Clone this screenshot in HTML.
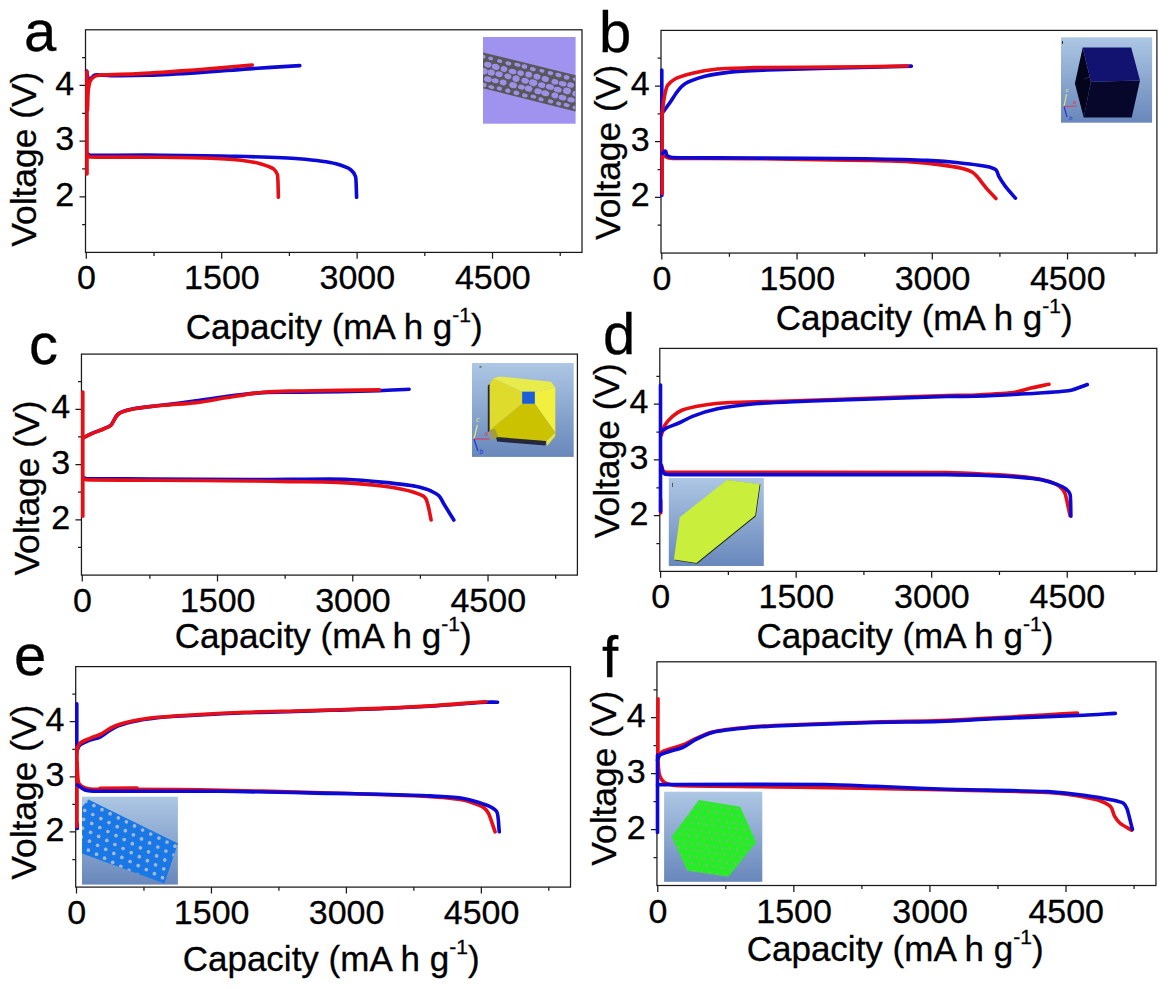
<!DOCTYPE html>
<html><head><meta charset="utf-8"><title>Voltage profiles</title>
<style>html,body{margin:0;padding:0;background:#fff;}svg{display:block;}svg text{stroke:#000;stroke-width:0.3px;}body{font-family:"Liberation Sans", sans-serif;}</style></head>
<body>
<svg width="1168" height="989" viewBox="0 0 1168 989" font-family='"Liberation Sans", sans-serif' fill="#000">
<defs><linearGradient id="gb" x1="0" y1="0" x2="0" y2="1">
<stop offset="0" stop-color="#adc7e4"/><stop offset="1" stop-color="#6887bb"/></linearGradient></defs>
<g id="panel-a">
<rect x="483.0" y="37.0" width="92.6" height="86.7" fill="#a093ef"/>
<defs><clipPath id="cta"><polygon points="483,52.4 575.6,75.2 575.6,111.6 483,88.3"/></clipPath></defs>
<polygon points="483,52.4 575.6,75.2 575.6,111.6 483,88.3" fill="#58585c"/>
<g clip-path="url(#cta)" fill="#9c90e6"><ellipse cx="474.3" cy="54.2" rx="3.0" ry="1.7" transform="rotate(13.8 474.3 54.2)"/><ellipse cx="483.1" cy="56.6" rx="2.6" ry="2.0" transform="rotate(13.8 483.1 56.6)"/><ellipse cx="490.7" cy="58.5" rx="2.6" ry="1.7" transform="rotate(13.8 490.7 58.5)"/><ellipse cx="499.7" cy="61.1" rx="2.7" ry="1.8" transform="rotate(13.8 499.7 61.1)"/><ellipse cx="508.4" cy="63.4" rx="3.0" ry="1.9" transform="rotate(13.8 508.4 63.4)"/><ellipse cx="517.4" cy="64.7" rx="3.2" ry="1.8" transform="rotate(13.8 517.4 64.7)"/><ellipse cx="524.4" cy="66.5" rx="2.8" ry="2.2" transform="rotate(13.8 524.4 66.5)"/><ellipse cx="532.9" cy="69.1" rx="3.0" ry="1.9" transform="rotate(13.8 532.9 69.1)"/><ellipse cx="541.9" cy="70.8" rx="2.6" ry="1.8" transform="rotate(13.8 541.9 70.8)"/><ellipse cx="550.5" cy="73.2" rx="2.8" ry="2.0" transform="rotate(13.8 550.5 73.2)"/><ellipse cx="558.5" cy="75.1" rx="3.1" ry="2.1" transform="rotate(13.8 558.5 75.1)"/><ellipse cx="566.6" cy="77.4" rx="2.9" ry="2.2" transform="rotate(13.8 566.6 77.4)"/><ellipse cx="575.8" cy="79.3" rx="3.2" ry="1.7" transform="rotate(13.8 575.8 79.3)"/><ellipse cx="583.7" cy="81.7" rx="2.7" ry="2.0" transform="rotate(13.8 583.7 81.7)"/><ellipse cx="478.1" cy="62.7" rx="3.8" ry="2.8" transform="rotate(13.8 478.1 62.7)"/><ellipse cx="487.8" cy="64.7" rx="3.8" ry="2.8" transform="rotate(13.8 487.8 64.7)"/><ellipse cx="495.7" cy="66.8" rx="3.9" ry="3.0" transform="rotate(13.8 495.7 66.8)"/><ellipse cx="504.0" cy="69.0" rx="3.4" ry="2.8" transform="rotate(13.8 504.0 69.0)"/><ellipse cx="512.6" cy="71.5" rx="3.9" ry="2.6" transform="rotate(13.8 512.6 71.5)"/><ellipse cx="520.6" cy="73.1" rx="3.3" ry="2.7" transform="rotate(13.8 520.6 73.1)"/><ellipse cx="528.7" cy="74.6" rx="3.4" ry="2.9" transform="rotate(13.8 528.7 74.6)"/><ellipse cx="537.0" cy="76.7" rx="3.6" ry="2.9" transform="rotate(13.8 537.0 76.7)"/><ellipse cx="545.3" cy="79.0" rx="3.7" ry="2.9" transform="rotate(13.8 545.3 79.0)"/><ellipse cx="554.9" cy="81.8" rx="3.5" ry="2.7" transform="rotate(13.8 554.9 81.8)"/><ellipse cx="562.6" cy="83.7" rx="4.0" ry="2.5" transform="rotate(13.8 562.6 83.7)"/><ellipse cx="570.7" cy="85.0" rx="3.5" ry="2.7" transform="rotate(13.8 570.7 85.0)"/><ellipse cx="579.7" cy="87.3" rx="3.3" ry="2.7" transform="rotate(13.8 579.7 87.3)"/><ellipse cx="587.8" cy="89.6" rx="4.0" ry="2.8" transform="rotate(13.8 587.8 89.6)"/><ellipse cx="474.6" cy="68.8" rx="4.1" ry="2.7" transform="rotate(13.8 474.6 68.8)"/><ellipse cx="483.6" cy="71.1" rx="4.2" ry="3.2" transform="rotate(13.8 483.6 71.1)"/><ellipse cx="491.2" cy="72.6" rx="3.7" ry="3.1" transform="rotate(13.8 491.2 72.6)"/><ellipse cx="499.1" cy="74.2" rx="3.7" ry="2.8" transform="rotate(13.8 499.1 74.2)"/><ellipse cx="507.9" cy="76.4" rx="3.6" ry="2.8" transform="rotate(13.8 507.9 76.4)"/><ellipse cx="516.0" cy="78.7" rx="3.6" ry="3.2" transform="rotate(13.8 516.0 78.7)"/><ellipse cx="525.2" cy="80.7" rx="3.8" ry="2.9" transform="rotate(13.8 525.2 80.7)"/><ellipse cx="533.2" cy="82.7" rx="4.2" ry="3.3" transform="rotate(13.8 533.2 82.7)"/><ellipse cx="541.7" cy="85.1" rx="3.7" ry="2.8" transform="rotate(13.8 541.7 85.1)"/><ellipse cx="549.9" cy="86.9" rx="4.2" ry="2.8" transform="rotate(13.8 549.9 86.9)"/><ellipse cx="557.8" cy="89.6" rx="4.0" ry="2.8" transform="rotate(13.8 557.8 89.6)"/><ellipse cx="567.1" cy="90.9" rx="4.0" ry="3.3" transform="rotate(13.8 567.1 90.9)"/><ellipse cx="576.0" cy="93.8" rx="3.8" ry="2.9" transform="rotate(13.8 576.0 93.8)"/><ellipse cx="583.3" cy="95.7" rx="4.0" ry="3.2" transform="rotate(13.8 583.3 95.7)"/><ellipse cx="478.5" cy="76.3" rx="3.9" ry="3.0" transform="rotate(13.8 478.5 76.3)"/><ellipse cx="487.8" cy="79.2" rx="3.9" ry="2.9" transform="rotate(13.8 487.8 79.2)"/><ellipse cx="495.2" cy="80.7" rx="3.6" ry="2.4" transform="rotate(13.8 495.2 80.7)"/><ellipse cx="503.2" cy="82.5" rx="3.5" ry="2.8" transform="rotate(13.8 503.2 82.5)"/><ellipse cx="513.1" cy="85.1" rx="4.0" ry="3.0" transform="rotate(13.8 513.1 85.1)"/><ellipse cx="521.5" cy="87.1" rx="3.5" ry="2.5" transform="rotate(13.8 521.5 87.1)"/><ellipse cx="528.7" cy="88.7" rx="3.8" ry="3.0" transform="rotate(13.8 528.7 88.7)"/><ellipse cx="538.1" cy="91.3" rx="3.8" ry="2.9" transform="rotate(13.8 538.1 91.3)"/><ellipse cx="545.3" cy="93.2" rx="4.0" ry="2.9" transform="rotate(13.8 545.3 93.2)"/><ellipse cx="554.8" cy="95.4" rx="3.4" ry="2.9" transform="rotate(13.8 554.8 95.4)"/><ellipse cx="562.5" cy="97.6" rx="4.0" ry="2.7" transform="rotate(13.8 562.5 97.6)"/><ellipse cx="571.0" cy="99.8" rx="3.8" ry="2.5" transform="rotate(13.8 571.0 99.8)"/><ellipse cx="579.0" cy="101.0" rx="3.9" ry="2.9" transform="rotate(13.8 579.0 101.0)"/><ellipse cx="587.4" cy="103.7" rx="4.0" ry="2.8" transform="rotate(13.8 587.4 103.7)"/><ellipse cx="474.4" cy="82.6" rx="2.7" ry="1.7" transform="rotate(13.8 474.4 82.6)"/><ellipse cx="483.8" cy="85.0" rx="2.9" ry="2.2" transform="rotate(13.8 483.8 85.0)"/><ellipse cx="491.3" cy="87.1" rx="3.1" ry="1.8" transform="rotate(13.8 491.3 87.1)"/><ellipse cx="499.4" cy="88.5" rx="2.7" ry="2.0" transform="rotate(13.8 499.4 88.5)"/><ellipse cx="507.8" cy="90.7" rx="2.7" ry="2.2" transform="rotate(13.8 507.8 90.7)"/><ellipse cx="516.4" cy="92.9" rx="3.0" ry="2.2" transform="rotate(13.8 516.4 92.9)"/><ellipse cx="524.9" cy="95.4" rx="2.9" ry="2.0" transform="rotate(13.8 524.9 95.4)"/><ellipse cx="533.4" cy="96.6" rx="2.9" ry="1.8" transform="rotate(13.8 533.4 96.6)"/><ellipse cx="541.0" cy="99.3" rx="2.7" ry="1.9" transform="rotate(13.8 541.0 99.3)"/><ellipse cx="550.6" cy="101.4" rx="2.8" ry="2.0" transform="rotate(13.8 550.6 101.4)"/><ellipse cx="558.7" cy="103.6" rx="2.6" ry="2.0" transform="rotate(13.8 558.7 103.6)"/><ellipse cx="566.6" cy="105.1" rx="3.1" ry="2.0" transform="rotate(13.8 566.6 105.1)"/><ellipse cx="575.5" cy="107.7" rx="3.2" ry="1.9" transform="rotate(13.8 575.5 107.7)"/><ellipse cx="584.0" cy="109.6" rx="2.9" ry="2.1" transform="rotate(13.8 584.0 109.6)"/></g>
<rect x="85.50" y="29.80" width="496.50" height="222.60" fill="none" stroke="#1a1a1a" stroke-width="1.25"/>
<path d="M86.30 252.40 V258.80 M221.71 252.40 V258.80 M357.12 252.40 V258.80 M492.53 252.40 V258.80 M154.00 252.40 V256.00 M289.41 252.40 V256.00 M424.82 252.40 V256.00 M560.23 252.40 V256.00 M85.50 196.75 H79.50 M85.50 141.10 H79.50 M85.50 85.45 H79.50 M85.50 224.58 H82.10 M85.50 168.93 H82.10 M85.50 113.28 H82.10 M85.50 57.62 H82.10" stroke="#1a1a1a" stroke-width="1.25" fill="none"/>
<text x="86.50" y="289.30" text-anchor="middle" font-size="34">0</text>
<text x="221.91" y="289.30" text-anchor="middle" font-size="34">1500</text>
<text x="357.32" y="289.30" text-anchor="middle" font-size="34">3000</text>
<text x="492.73" y="289.30" text-anchor="middle" font-size="34">4500</text>
<text x="74.20" y="205.85" text-anchor="end" font-size="34">2</text>
<text x="74.20" y="150.20" text-anchor="end" font-size="34">3</text>
<text x="74.20" y="94.55" text-anchor="end" font-size="34">4</text>
<text x="185.80" y="339.00" font-size="35.0">Capacity (mA h g<tspan font-size="21" dy="-17.5">-1</tspan><tspan dy="17.5">)</tspan></text>
<text transform="translate(35.80 246.70) rotate(-90)" x="0" y="0" font-size="35.4">Voltage (V)</text>
<path d="M86.60 71.00 C87.02 73.10 87.39 75.56 87.80 77.00 C88.21 78.44 88.01 80.82 89.30 81.00 C90.59 81.18 90.61 78.95 91.50 78.00 C92.39 77.05 93.48 75.53 95.00 75.00 C96.52 74.47 105.40 75.52 111.00 75.60 C116.60 75.68 135.38 75.61 148.50 75.20 C161.62 74.79 181.01 73.70 198.50 72.60 C215.99 71.50 230.99 70.11 248.50 68.90 C266.01 67.69 281.85 66.75 299.80 65.60" fill="none" stroke="#0c08d6" stroke-width="3.60" stroke-linecap="round" stroke-linejoin="round"/>
<path d="M87.30 153.80 C88.25 154.29 88.97 154.95 90.00 155.20 C91.03 155.45 136.15 155.02 161.00 155.20 C185.85 155.38 214.12 155.70 236.00 156.30 C257.88 156.90 285.31 157.66 298.50 158.80 C311.69 159.94 330.51 162.33 336.00 163.80 C341.49 165.27 348.85 168.26 351.00 170.00 C353.15 171.74 354.61 173.88 355.50 176.50 C356.39 179.12 356.22 190.02 356.60 197.30" fill="none" stroke="#0c08d6" stroke-width="3.60" stroke-linecap="round" stroke-linejoin="round"/>
<path d="M87.00 71.50 L87.00 174.00" fill="none" stroke="#e80e16" stroke-width="3.60" stroke-linecap="round" stroke-linejoin="round"/>
<path d="M87.50 110.00 C87.78 103.00 87.84 93.38 88.30 90.00 C88.76 86.62 89.54 82.23 90.50 80.50 C91.46 78.77 92.77 77.46 94.50 76.50 C96.23 75.54 98.68 75.30 101.00 75.00 C103.32 74.70 123.76 74.50 136.00 73.90 C148.24 73.30 172.87 71.56 186.00 70.60 C199.13 69.64 213.42 68.46 223.50 67.60 C233.58 66.74 242.22 65.91 252.30 65.00" fill="none" stroke="#e80e16" stroke-width="3.60" stroke-linecap="round" stroke-linejoin="round"/>
<path d="M87.50 155.50 C88.38 156.03 89.02 156.73 90.00 157.00 C90.98 157.27 143.50 157.00 161.00 157.20 C178.50 157.40 200.49 157.74 211.00 158.20 C221.51 158.66 233.94 159.31 241.00 160.20 C248.06 161.09 256.47 162.59 261.00 163.90 C265.53 165.21 271.63 167.41 273.50 168.90 C275.37 170.39 276.63 172.24 277.40 174.50 C278.17 176.76 278.05 189.32 278.40 197.30" fill="none" stroke="#e80e16" stroke-width="3.60" stroke-linecap="round" stroke-linejoin="round"/>
<text x="24.00" y="51.00" font-size="58">a</text>
</g>
<g id="panel-b">
<rect x="1061.0" y="37.3" width="91.1" height="85.4" fill="url(#gb)"/>
<polygon points="1082.7,47.5 1090.9,81.7 1083.7,117.4 1074.9,83.4" fill="#04041c"/>
<polygon points="1090.9,81.7 1140.0,80.5 1131.7,117.4 1083.7,117.4" fill="#07072c"/>
<polygon points="1082.7,47.5 1131.2,47.5 1140.0,80.5 1090.9,81.7" fill="#121270"/>
<path d="M1084 79 L1090 77" stroke="#404060" stroke-width="0.6"/>
<path d="M1064 106.5 L1066.5 94" stroke="#e8e870" stroke-width="1.1"/>
<path d="M1064 106.5 L1077 106" stroke="#d84050" stroke-width="1.1"/>
<path d="M1064 106.5 L1067 117" stroke="#2030e0" stroke-width="1.1"/>
<g font-size="6" font-style="italic" style="stroke:none"><text x="1065.5" y="92" fill="#e8e870" style="stroke:none">c</text><text x="1073" y="104" fill="#d84050" style="stroke:none">a</text><text x="1069" y="119.5" fill="#2030e0" style="stroke:none">b</text></g>
<rect x="1062" y="41" width="0.9" height="3" fill="#222"/>
<rect x="661.00" y="30.40" width="495.90" height="222.65" fill="none" stroke="#1a1a1a" stroke-width="1.25"/>
<path d="M661.80 253.05 V259.45 M797.05 253.05 V259.45 M932.29 253.05 V259.45 M1067.54 253.05 V259.45 M729.42 253.05 V256.65 M864.67 253.05 V256.65 M999.91 253.05 V256.65 M1135.16 253.05 V256.65 M661.00 197.39 H655.00 M661.00 141.73 H655.00 M661.00 86.06 H655.00 M661.00 225.22 H657.60 M661.00 169.56 H657.60 M661.00 113.89 H657.60 M661.00 58.23 H657.60" stroke="#1a1a1a" stroke-width="1.25" fill="none"/>
<text x="662.00" y="290.00" text-anchor="middle" font-size="34">0</text>
<text x="797.25" y="290.00" text-anchor="middle" font-size="34">1500</text>
<text x="932.49" y="290.00" text-anchor="middle" font-size="34">3000</text>
<text x="1067.74" y="290.00" text-anchor="middle" font-size="34">4500</text>
<text x="649.70" y="206.49" text-anchor="end" font-size="34">2</text>
<text x="649.70" y="150.83" text-anchor="end" font-size="34">3</text>
<text x="649.70" y="95.16" text-anchor="end" font-size="34">4</text>
<text x="775.80" y="330.30" font-size="35.0">Capacity (mA h g<tspan font-size="21" dy="-17.5">-1</tspan><tspan dy="17.5">)</tspan></text>
<text transform="translate(619.60 239.90) rotate(-90)" x="0" y="0" font-size="35.4">Voltage (V)</text>
<path d="M661.80 70.00 L661.80 195.50" fill="none" stroke="#0c08d6" stroke-width="3.60" stroke-linecap="round" stroke-linejoin="round"/>
<path d="M662.20 112.00 L662.20 193.50" fill="none" stroke="#e80e16" stroke-width="3.60" stroke-linecap="round" stroke-linejoin="round"/>
<path d="M662.60 112.50 C665.19 109.00 667.49 106.06 670.00 102.50 C672.51 98.94 675.14 94.17 677.50 91.30 C679.86 88.43 681.88 85.81 685.00 83.80 C688.12 81.79 697.78 78.24 705.00 76.30 C712.22 74.36 721.18 73.08 730.00 72.10 C738.82 71.12 754.37 70.55 767.50 70.00 C780.63 69.45 808.12 68.89 830.00 68.30 C851.88 67.71 882.85 66.87 911.30 66.10" fill="none" stroke="#0c08d6" stroke-width="3.60" stroke-linecap="round" stroke-linejoin="round"/>
<path d="M662.20 115.00 C662.76 109.75 662.87 105.15 663.80 100.00 C664.73 94.85 665.67 88.46 667.50 85.50 C669.33 82.54 671.98 80.72 675.00 79.00 C678.02 77.28 686.24 74.75 692.50 73.20 C698.76 71.65 708.67 69.90 717.50 69.00 C726.33 68.10 741.87 67.89 755.00 67.60 C768.13 67.31 803.75 67.37 830.00 67.10 C856.25 66.83 880.38 66.38 907.50 66.00" fill="none" stroke="#e80e16" stroke-width="3.60" stroke-linecap="round" stroke-linejoin="round"/>
<path d="M663.00 155.50 C665.45 156.44 667.42 157.71 670.00 158.20 C672.58 158.69 722.00 158.31 750.00 158.60 C778.00 158.89 848.65 160.01 865.00 160.40 C881.35 160.79 900.75 161.16 911.70 161.90 C922.65 162.64 936.32 164.22 942.90 165.10 C949.48 165.98 957.67 167.16 961.60 168.20 C965.53 169.24 970.44 170.91 972.50 172.20 C974.56 173.49 975.87 175.21 977.50 177.00 C979.13 178.79 983.34 184.61 986.50 188.30 C989.66 191.99 992.61 194.93 995.90 198.50" fill="none" stroke="#e80e16" stroke-width="3.60" stroke-linecap="round" stroke-linejoin="round"/>
<path d="M662.60 153.50 C663.54 152.62 664.05 150.70 665.30 151.00 C666.55 151.30 665.82 154.30 667.00 155.50 C668.18 156.70 670.15 157.14 672.00 157.50 C673.85 157.86 722.70 157.82 750.00 158.00 C777.30 158.18 843.19 158.44 865.00 158.80 C886.81 159.16 916.36 159.86 927.30 160.40 C938.24 160.94 947.61 161.53 958.50 162.70 C969.39 163.87 987.29 166.45 989.60 167.10 C991.91 167.75 994.19 168.12 995.90 169.80 C997.61 171.48 997.72 174.38 999.00 176.70 C1000.28 179.02 1002.84 182.94 1005.20 186.10 C1007.56 189.26 1011.83 193.97 1015.40 198.20" fill="none" stroke="#0c08d6" stroke-width="3.60" stroke-linecap="round" stroke-linejoin="round"/>
<text x="599.00" y="52.00" font-size="58">b</text>
</g>
<g id="panel-c">
<rect x="472.0" y="363.0" width="101.7" height="93.9" fill="url(#gb)"/>
<polygon points="487.8,385.5 490.2,383.5 490.2,431.0 487.8,432.0" fill="#25273c"/>
<polygon points="495.5,436.0 546.5,440.5 545.3,445.6 497.2,441.6" fill="#25273c"/>
<polygon points="493.2,378.5 499.5,376.4 551.1,381.7 555.3,387.4 534.8,391.7 522.2,391.7" fill="#e7eb4c"/>
<polygon points="489.6,384.3 493.2,378.5 522.2,391.7 522.2,403.7 489.6,430.6" fill="#dedb2c"/>
<polygon points="555.3,387.4 555.3,432.7 534.8,403.7 534.8,391.7" fill="#f1f03e"/>
<polygon points="522.2,403.7 534.8,403.7 555.3,432.7 546.3,441.1 496.4,436.9 489.6,430.6" fill="#cbc302"/>
<polygon points="555.3,432.7 555.3,436.0 547.0,446.0 546.3,441.1" fill="#e6e640"/>
<polygon points="522.2,391.7 534.8,391.7 534.8,403.7 522.2,403.7" fill="#1a5fd8"/>
<polygon points="489.2,430.5 495.0,428.8 498.2,437.0 492.0,439.5" fill="#a59c40"/>
<path d="M474 439 L477.3 425" stroke="#e8e870" stroke-width="1.2"/>
<path d="M474 439 L489.5 439" stroke="#d84050" stroke-width="1.2"/>
<path d="M474 439 L478 451" stroke="#2030e0" stroke-width="1.2"/>
<text x="476" y="422" font-size="6.5" font-style="italic" fill="#e8e870" style="stroke:none">c</text>
<text x="484.5" y="436" font-size="6.5" font-style="italic" fill="#d84050" style="stroke:none">a</text>
<text x="479.5" y="454" font-size="6.5" font-style="italic" fill="#2030e0" style="stroke:none">b</text>
<rect x="479.5" y="366.5" width="2" height="0.9" fill="#222"/>
<rect x="81.45" y="354.10" width="495.95" height="221.00" fill="none" stroke="#1a1a1a" stroke-width="1.25"/>
<path d="M82.25 575.10 V581.50 M217.51 575.10 V581.50 M352.77 575.10 V581.50 M488.03 575.10 V581.50 M149.88 575.10 V578.70 M285.14 575.10 V578.70 M420.40 575.10 V578.70 M555.66 575.10 V578.70 M81.45 519.85 H75.45 M81.45 464.60 H75.45 M81.45 409.35 H75.45 M81.45 547.48 H78.05 M81.45 492.23 H78.05 M81.45 436.98 H78.05 M81.45 381.73 H78.05" stroke="#1a1a1a" stroke-width="1.25" fill="none"/>
<text x="82.45" y="611.70" text-anchor="middle" font-size="34">0</text>
<text x="217.71" y="611.70" text-anchor="middle" font-size="34">1500</text>
<text x="352.97" y="611.70" text-anchor="middle" font-size="34">3000</text>
<text x="488.23" y="611.70" text-anchor="middle" font-size="34">4500</text>
<text x="70.15" y="528.95" text-anchor="end" font-size="34">2</text>
<text x="70.15" y="473.70" text-anchor="end" font-size="34">3</text>
<text x="70.15" y="418.45" text-anchor="end" font-size="34">4</text>
<text x="174.70" y="648.20" font-size="35.0">Capacity (mA h g<tspan font-size="21" dy="-17.5">-1</tspan><tspan dy="17.5">)</tspan></text>
<text transform="translate(39.20 575.60) rotate(-90)" x="0" y="0" font-size="35.4">Voltage (V)</text>
<path d="M83.50 437.50 C86.12 436.20 88.33 434.99 91.00 433.80 C93.67 432.61 100.82 430.01 103.50 428.80 C106.18 427.59 108.80 426.95 111.00 425.00 C113.20 423.05 114.75 416.66 118.50 413.80 C122.25 410.94 128.10 410.03 133.50 408.80 C138.90 407.57 153.00 406.34 163.50 405.00 C174.00 403.66 185.49 402.23 196.00 400.80 C206.51 399.37 215.47 397.80 226.00 396.50 C236.53 395.20 250.75 393.33 263.50 392.60 C276.25 391.87 287.23 392.37 300.00 392.20 C312.77 392.03 326.21 391.88 340.00 391.60 C353.79 391.32 369.00 390.96 379.40 390.60 C389.80 390.24 398.70 389.75 409.10 389.30" fill="none" stroke="#0c08d6" stroke-width="3.60" stroke-linecap="round" stroke-linejoin="round"/>
<path d="M83.50 477.60 C84.38 477.95 85.08 478.42 86.00 478.60 C86.92 478.78 128.25 478.87 151.00 479.00 C173.75 479.13 237.35 479.48 251.00 479.50 C264.65 479.52 276.35 479.43 290.00 479.40 C303.65 479.37 331.15 478.77 344.90 479.30 C358.65 479.83 373.12 481.28 384.10 482.40 C395.08 483.52 409.79 485.12 415.40 486.30 C421.01 487.48 428.19 489.71 431.10 491.00 C434.01 492.29 436.65 493.45 438.90 495.70 C441.15 497.95 441.94 500.78 443.60 503.50 C445.26 506.22 450.23 514.23 453.80 520.00" fill="none" stroke="#0c08d6" stroke-width="3.60" stroke-linecap="round" stroke-linejoin="round"/>
<path d="M82.80 392.00 L82.80 516.30" fill="none" stroke="#e80e16" stroke-width="3.60" stroke-linecap="round" stroke-linejoin="round"/>
<path d="M83.50 437.80 C86.12 436.47 88.32 435.21 91.00 434.00 C93.68 432.79 100.83 430.19 103.50 429.00 C106.17 427.81 108.80 427.23 111.00 425.30 C113.20 423.37 114.73 416.89 118.50 414.00 C122.27 411.11 128.10 410.22 133.50 409.00 C138.90 407.78 152.98 406.39 163.50 405.30 C174.02 404.21 185.44 403.88 196.00 402.60 C206.56 401.32 215.49 399.43 226.00 397.80 C236.51 396.17 250.77 393.36 263.50 392.20 C276.23 391.04 287.22 391.31 300.00 391.00 C312.78 390.69 326.21 390.59 340.00 390.40 C353.79 390.21 365.61 390.07 379.40 389.90" fill="none" stroke="#e80e16" stroke-width="3.60" stroke-linecap="round" stroke-linejoin="round"/>
<path d="M83.50 478.30 C84.38 478.82 85.02 479.52 86.00 479.80 C86.98 480.08 128.25 480.04 151.00 480.20 C173.75 480.36 237.35 480.84 251.00 481.00 C264.65 481.16 276.35 481.38 290.00 481.60 C303.65 481.82 320.57 481.58 337.00 482.40 C353.43 483.22 374.14 484.92 384.10 486.30 C394.06 487.68 407.74 490.37 412.30 491.80 C416.86 493.23 422.74 495.19 424.80 497.30 C426.86 499.41 427.14 502.28 428.00 505.10 C428.86 507.92 430.01 514.78 431.10 520.00" fill="none" stroke="#e80e16" stroke-width="3.60" stroke-linecap="round" stroke-linejoin="round"/>
<text x="29.00" y="364.00" font-size="58">c</text>
</g>
<g id="panel-d">
<rect x="668.8" y="478.0" width="95.0" height="88.0" fill="url(#gb)"/>
<polygon points="727.7,480.6 760.4,484.6 755.9,516.3 697.1,563.7 674.6,560.2 680.5,517.9" fill="#1f2a10"/>
<polygon points="727.0,479.9 759.7,483.9 755.2,515.6 696.4,563.0 673.9,559.5 679.8,517.2" fill="#c9ee3c"/>
<rect x="672.2" y="482.8" width="0.8" height="4.2" fill="#3a4050"/>
<rect x="659.80" y="348.40" width="497.00" height="223.00" fill="none" stroke="#1a1a1a" stroke-width="1.25"/>
<path d="M660.60 571.40 V577.80 M796.15 571.40 V577.80 M931.69 571.40 V577.80 M1067.24 571.40 V577.80 M728.37 571.40 V575.00 M863.92 571.40 V575.00 M999.46 571.40 V575.00 M1135.01 571.40 V575.00 M659.80 515.65 H653.80 M659.80 459.90 H653.80 M659.80 404.15 H653.80 M659.80 543.52 H656.40 M659.80 487.77 H656.40 M659.80 432.02 H656.40 M659.80 376.27 H656.40" stroke="#1a1a1a" stroke-width="1.25" fill="none"/>
<text x="660.80" y="608.10" text-anchor="middle" font-size="34">0</text>
<text x="796.35" y="608.10" text-anchor="middle" font-size="34">1500</text>
<text x="931.89" y="608.10" text-anchor="middle" font-size="34">3000</text>
<text x="1067.44" y="608.10" text-anchor="middle" font-size="34">4500</text>
<text x="648.50" y="524.75" text-anchor="end" font-size="34">2</text>
<text x="648.50" y="469.00" text-anchor="end" font-size="34">3</text>
<text x="648.50" y="413.25" text-anchor="end" font-size="34">4</text>
<text x="756.50" y="648.20" font-size="35.0">Capacity (mA h g<tspan font-size="21" dy="-17.5">-1</tspan><tspan dy="17.5">)</tspan></text>
<text transform="translate(619.00 538.20) rotate(-90)" x="0" y="0" font-size="35.4">Voltage (V)</text>
<path d="M661.30 435.00 C662.60 431.50 663.10 428.21 665.00 425.00 C666.90 421.79 669.45 418.92 672.50 416.30 C675.55 413.68 678.67 411.57 682.50 410.00 C686.33 408.43 697.03 406.28 705.00 405.00 C712.97 403.72 721.22 403.05 730.00 402.50 C738.78 401.95 762.50 401.71 780.00 401.20 C797.50 400.69 828.75 399.68 855.00 398.80 C881.25 397.92 936.85 395.88 947.00 395.60 C957.15 395.32 965.86 395.48 976.00 395.00 C986.14 394.52 1010.64 392.91 1016.00 392.00 C1021.36 391.09 1025.71 389.25 1031.00 388.00 C1036.29 386.75 1042.70 385.60 1049.00 384.30" fill="none" stroke="#e80e16" stroke-width="3.60" stroke-linecap="round" stroke-linejoin="round"/>
<path d="M661.30 465.00 C662.17 467.20 662.09 469.91 663.80 471.30 C665.51 472.69 667.80 472.21 670.00 472.40 C672.20 472.59 933.09 472.18 947.00 472.50 C960.91 472.82 975.77 473.68 986.70 474.30 C997.63 474.92 1009.68 475.58 1017.90 476.40 C1026.12 477.22 1035.70 478.22 1041.30 479.50 C1046.90 480.78 1054.45 483.23 1056.90 484.60 C1059.35 485.97 1061.86 488.35 1063.00 489.80 C1064.14 491.25 1064.78 492.76 1065.40 494.50 C1066.02 496.24 1068.39 508.15 1070.00 515.50" fill="none" stroke="#e80e16" stroke-width="3.60" stroke-linecap="round" stroke-linejoin="round"/>
<path d="M660.70 500.00 L660.70 513.00" fill="none" stroke="#e80e16" stroke-width="3.60" stroke-linecap="round" stroke-linejoin="round"/>
<path d="M660.50 385.00 L660.50 511.50" fill="none" stroke="#0c08d6" stroke-width="3.60" stroke-linecap="round" stroke-linejoin="round"/>
<path d="M661.30 431.30 C663.47 429.97 665.23 428.64 667.50 427.50 C669.77 426.36 675.70 424.42 680.00 422.50 C684.30 420.58 687.96 418.09 692.50 416.30 C697.04 414.51 708.57 410.72 717.50 408.80 C726.43 406.88 741.81 405.01 755.00 403.80 C768.19 402.59 787.49 402.03 805.00 401.30 C822.51 400.57 856.55 399.59 880.00 398.80 C903.45 398.01 936.85 396.71 947.00 396.50 C957.15 396.29 965.85 396.59 976.00 396.30 C986.15 396.01 1010.66 394.76 1026.00 393.80 C1041.34 392.84 1063.46 391.80 1069.80 390.50 C1076.14 389.20 1081.17 386.60 1087.30 384.50" fill="none" stroke="#0c08d6" stroke-width="3.60" stroke-linecap="round" stroke-linejoin="round"/>
<path d="M661.30 466.00 C662.17 468.56 662.14 471.83 663.80 473.30 C665.46 474.77 667.79 474.37 670.00 474.60 C672.21 474.83 933.10 474.44 947.00 474.60 C960.90 474.76 975.77 475.10 986.70 475.50 C997.63 475.90 1009.69 476.43 1017.90 477.10 C1026.11 477.77 1035.71 478.56 1041.30 479.70 C1046.89 480.84 1053.51 483.05 1056.90 484.40 C1060.29 485.75 1064.43 487.59 1066.20 489.10 C1067.97 490.61 1069.34 492.30 1070.10 494.50 C1070.86 496.70 1070.62 508.67 1070.90 516.30" fill="none" stroke="#0c08d6" stroke-width="3.60" stroke-linecap="round" stroke-linejoin="round"/>
<text x="603.00" y="354.00" font-size="58">d</text>
</g>
<g id="panel-e">
<rect x="82.0" y="796.7" width="95.9" height="87.9" fill="url(#gb)"/>
<defs><clipPath id="cie"><rect x="82.0" y="796.7" width="95.9" height="87.9"/></clipPath></defs>
<g clip-path="url(#cie)">
<polygon points="88.4,799.5 177.9,843.6 164.5,883.4 82.0,853.4 82.0,807.0" fill="#1a78e6"/>
<defs><clipPath id="cpe"><polygon points="88.4,799.5 177.9,843.6 164.5,883.4 82.0,853.4 82.0,807.0"/></clipPath></defs>
<g clip-path="url(#cpe)" fill="#a3b8d0"><circle cx="65.9" cy="753.8" r="1.85"/><circle cx="74.0" cy="757.8" r="1.85"/><circle cx="82.1" cy="761.9" r="1.85"/><circle cx="90.2" cy="765.9" r="1.85"/><circle cx="98.3" cy="770.0" r="1.85"/><circle cx="106.5" cy="774.1" r="1.85"/><circle cx="114.6" cy="778.1" r="1.85"/><circle cx="122.7" cy="782.2" r="1.85"/><circle cx="130.8" cy="786.2" r="1.85"/><circle cx="138.9" cy="790.3" r="1.85"/><circle cx="147.1" cy="794.4" r="1.85"/><circle cx="155.2" cy="798.4" r="1.85"/><circle cx="163.3" cy="802.5" r="1.85"/><circle cx="171.4" cy="806.5" r="1.85"/><circle cx="179.5" cy="810.6" r="1.85"/><circle cx="187.7" cy="814.7" r="1.85"/><circle cx="195.8" cy="818.7" r="1.85"/><circle cx="203.9" cy="822.8" r="1.85"/><circle cx="64.8" cy="762.7" r="1.85"/><circle cx="72.9" cy="766.7" r="1.85"/><circle cx="81.0" cy="770.8" r="1.85"/><circle cx="89.1" cy="774.8" r="1.85"/><circle cx="97.2" cy="778.9" r="1.85"/><circle cx="105.4" cy="783.0" r="1.85"/><circle cx="113.5" cy="787.0" r="1.85"/><circle cx="121.6" cy="791.1" r="1.85"/><circle cx="129.7" cy="795.1" r="1.85"/><circle cx="137.8" cy="799.2" r="1.85"/><circle cx="146.0" cy="803.3" r="1.85"/><circle cx="154.1" cy="807.3" r="1.85"/><circle cx="162.2" cy="811.4" r="1.85"/><circle cx="170.3" cy="815.4" r="1.85"/><circle cx="178.4" cy="819.5" r="1.85"/><circle cx="186.6" cy="823.6" r="1.85"/><circle cx="194.7" cy="827.6" r="1.85"/><circle cx="202.8" cy="831.7" r="1.85"/><circle cx="63.6" cy="771.6" r="1.85"/><circle cx="71.8" cy="775.6" r="1.85"/><circle cx="79.9" cy="779.7" r="1.85"/><circle cx="88.0" cy="783.7" r="1.85"/><circle cx="96.1" cy="787.8" r="1.85"/><circle cx="104.2" cy="791.9" r="1.85"/><circle cx="112.4" cy="795.9" r="1.85"/><circle cx="120.5" cy="800.0" r="1.85"/><circle cx="128.6" cy="804.0" r="1.85"/><circle cx="136.7" cy="808.1" r="1.85"/><circle cx="144.8" cy="812.2" r="1.85"/><circle cx="153.0" cy="816.2" r="1.85"/><circle cx="161.1" cy="820.3" r="1.85"/><circle cx="169.2" cy="824.3" r="1.85"/><circle cx="177.3" cy="828.4" r="1.85"/><circle cx="185.4" cy="832.5" r="1.85"/><circle cx="193.6" cy="836.5" r="1.85"/><circle cx="201.7" cy="840.6" r="1.85"/><circle cx="62.5" cy="780.5" r="1.85"/><circle cx="70.7" cy="784.5" r="1.85"/><circle cx="78.8" cy="788.6" r="1.85"/><circle cx="86.9" cy="792.6" r="1.85"/><circle cx="95.0" cy="796.7" r="1.85"/><circle cx="103.1" cy="800.8" r="1.85"/><circle cx="111.2" cy="804.8" r="1.85"/><circle cx="119.4" cy="808.9" r="1.85"/><circle cx="127.5" cy="812.9" r="1.85"/><circle cx="135.6" cy="817.0" r="1.85"/><circle cx="143.7" cy="821.1" r="1.85"/><circle cx="151.9" cy="825.1" r="1.85"/><circle cx="160.0" cy="829.2" r="1.85"/><circle cx="168.1" cy="833.2" r="1.85"/><circle cx="176.2" cy="837.3" r="1.85"/><circle cx="184.3" cy="841.4" r="1.85"/><circle cx="192.5" cy="845.4" r="1.85"/><circle cx="200.6" cy="849.5" r="1.85"/><circle cx="61.4" cy="789.4" r="1.85"/><circle cx="69.5" cy="793.4" r="1.85"/><circle cx="77.7" cy="797.5" r="1.85"/><circle cx="85.8" cy="801.5" r="1.85"/><circle cx="93.9" cy="805.6" r="1.85"/><circle cx="102.0" cy="809.7" r="1.85"/><circle cx="110.1" cy="813.7" r="1.85"/><circle cx="118.3" cy="817.8" r="1.85"/><circle cx="126.4" cy="821.8" r="1.85"/><circle cx="134.5" cy="825.9" r="1.85"/><circle cx="142.6" cy="830.0" r="1.85"/><circle cx="150.7" cy="834.0" r="1.85"/><circle cx="158.9" cy="838.1" r="1.85"/><circle cx="167.0" cy="842.1" r="1.85"/><circle cx="175.1" cy="846.2" r="1.85"/><circle cx="183.2" cy="850.3" r="1.85"/><circle cx="191.3" cy="854.3" r="1.85"/><circle cx="199.5" cy="858.4" r="1.85"/><circle cx="60.3" cy="798.3" r="1.85"/><circle cx="68.4" cy="802.3" r="1.85"/><circle cx="76.6" cy="806.4" r="1.85"/><circle cx="84.7" cy="810.4" r="1.85"/><circle cx="92.8" cy="814.5" r="1.85"/><circle cx="100.9" cy="818.6" r="1.85"/><circle cx="109.0" cy="822.6" r="1.85"/><circle cx="117.2" cy="826.7" r="1.85"/><circle cx="125.3" cy="830.7" r="1.85"/><circle cx="133.4" cy="834.8" r="1.85"/><circle cx="141.5" cy="838.9" r="1.85"/><circle cx="149.6" cy="842.9" r="1.85"/><circle cx="157.8" cy="847.0" r="1.85"/><circle cx="165.9" cy="851.0" r="1.85"/><circle cx="174.0" cy="855.1" r="1.85"/><circle cx="182.1" cy="859.2" r="1.85"/><circle cx="190.2" cy="863.2" r="1.85"/><circle cx="198.3" cy="867.3" r="1.85"/><circle cx="59.2" cy="807.2" r="1.85"/><circle cx="67.3" cy="811.2" r="1.85"/><circle cx="75.4" cy="815.3" r="1.85"/><circle cx="83.6" cy="819.3" r="1.85"/><circle cx="91.7" cy="823.4" r="1.85"/><circle cx="99.8" cy="827.5" r="1.85"/><circle cx="107.9" cy="831.5" r="1.85"/><circle cx="116.0" cy="835.6" r="1.85"/><circle cx="124.2" cy="839.6" r="1.85"/><circle cx="132.3" cy="843.7" r="1.85"/><circle cx="140.4" cy="847.8" r="1.85"/><circle cx="148.5" cy="851.8" r="1.85"/><circle cx="156.6" cy="855.9" r="1.85"/><circle cx="164.8" cy="859.9" r="1.85"/><circle cx="172.9" cy="864.0" r="1.85"/><circle cx="181.0" cy="868.1" r="1.85"/><circle cx="189.1" cy="872.1" r="1.85"/><circle cx="197.2" cy="876.2" r="1.85"/><circle cx="58.1" cy="816.1" r="1.85"/><circle cx="66.2" cy="820.1" r="1.85"/><circle cx="74.3" cy="824.2" r="1.85"/><circle cx="82.5" cy="828.2" r="1.85"/><circle cx="90.6" cy="832.3" r="1.85"/><circle cx="98.7" cy="836.4" r="1.85"/><circle cx="106.8" cy="840.4" r="1.85"/><circle cx="114.9" cy="844.5" r="1.85"/><circle cx="123.0" cy="848.5" r="1.85"/><circle cx="131.2" cy="852.6" r="1.85"/><circle cx="139.3" cy="856.7" r="1.85"/><circle cx="147.4" cy="860.7" r="1.85"/><circle cx="155.5" cy="864.8" r="1.85"/><circle cx="163.7" cy="868.8" r="1.85"/><circle cx="171.8" cy="872.9" r="1.85"/><circle cx="179.9" cy="877.0" r="1.85"/><circle cx="188.0" cy="881.0" r="1.85"/><circle cx="196.1" cy="885.1" r="1.85"/><circle cx="57.0" cy="825.0" r="1.85"/><circle cx="65.1" cy="829.0" r="1.85"/><circle cx="73.2" cy="833.1" r="1.85"/><circle cx="81.3" cy="837.1" r="1.85"/><circle cx="89.5" cy="841.2" r="1.85"/><circle cx="97.6" cy="845.3" r="1.85"/><circle cx="105.7" cy="849.3" r="1.85"/><circle cx="113.8" cy="853.4" r="1.85"/><circle cx="121.9" cy="857.4" r="1.85"/><circle cx="130.1" cy="861.5" r="1.85"/><circle cx="138.2" cy="865.6" r="1.85"/><circle cx="146.3" cy="869.6" r="1.85"/><circle cx="154.4" cy="873.7" r="1.85"/><circle cx="162.5" cy="877.7" r="1.85"/><circle cx="170.7" cy="881.8" r="1.85"/><circle cx="178.8" cy="885.9" r="1.85"/><circle cx="186.9" cy="889.9" r="1.85"/><circle cx="195.0" cy="894.0" r="1.85"/><circle cx="55.9" cy="833.9" r="1.85"/><circle cx="64.0" cy="837.9" r="1.85"/><circle cx="72.1" cy="842.0" r="1.85"/><circle cx="80.2" cy="846.0" r="1.85"/><circle cx="88.4" cy="850.1" r="1.85"/><circle cx="96.5" cy="854.2" r="1.85"/><circle cx="104.6" cy="858.2" r="1.85"/><circle cx="112.7" cy="862.3" r="1.85"/><circle cx="120.8" cy="866.3" r="1.85"/><circle cx="128.9" cy="870.4" r="1.85"/><circle cx="137.1" cy="874.5" r="1.85"/><circle cx="145.2" cy="878.5" r="1.85"/><circle cx="153.3" cy="882.6" r="1.85"/><circle cx="161.4" cy="886.6" r="1.85"/><circle cx="169.5" cy="890.7" r="1.85"/><circle cx="177.7" cy="894.8" r="1.85"/><circle cx="185.8" cy="898.8" r="1.85"/><circle cx="193.9" cy="902.9" r="1.85"/><circle cx="54.8" cy="842.8" r="1.85"/><circle cx="62.9" cy="846.8" r="1.85"/><circle cx="71.0" cy="850.9" r="1.85"/><circle cx="79.1" cy="854.9" r="1.85"/><circle cx="87.2" cy="859.0" r="1.85"/><circle cx="95.4" cy="863.1" r="1.85"/><circle cx="103.5" cy="867.1" r="1.85"/><circle cx="111.6" cy="871.2" r="1.85"/><circle cx="119.7" cy="875.2" r="1.85"/><circle cx="127.8" cy="879.3" r="1.85"/><circle cx="136.0" cy="883.4" r="1.85"/><circle cx="144.1" cy="887.4" r="1.85"/><circle cx="152.2" cy="891.5" r="1.85"/><circle cx="160.3" cy="895.5" r="1.85"/><circle cx="168.4" cy="899.6" r="1.85"/><circle cx="176.6" cy="903.7" r="1.85"/><circle cx="184.7" cy="907.7" r="1.85"/><circle cx="192.8" cy="911.8" r="1.85"/><circle cx="53.7" cy="851.7" r="1.85"/><circle cx="61.8" cy="855.7" r="1.85"/><circle cx="69.9" cy="859.8" r="1.85"/><circle cx="78.0" cy="863.8" r="1.85"/><circle cx="86.1" cy="867.9" r="1.85"/><circle cx="94.3" cy="872.0" r="1.85"/><circle cx="102.4" cy="876.0" r="1.85"/><circle cx="110.5" cy="880.1" r="1.85"/><circle cx="118.6" cy="884.1" r="1.85"/><circle cx="126.7" cy="888.2" r="1.85"/><circle cx="134.8" cy="892.3" r="1.85"/><circle cx="143.0" cy="896.3" r="1.85"/><circle cx="151.1" cy="900.4" r="1.85"/><circle cx="159.2" cy="904.4" r="1.85"/><circle cx="167.3" cy="908.5" r="1.85"/><circle cx="175.4" cy="912.6" r="1.85"/><circle cx="183.6" cy="916.6" r="1.85"/><circle cx="191.7" cy="920.7" r="1.85"/><circle cx="52.5" cy="860.6" r="1.85"/><circle cx="60.7" cy="864.6" r="1.85"/><circle cx="68.8" cy="868.7" r="1.85"/><circle cx="76.9" cy="872.7" r="1.85"/><circle cx="85.0" cy="876.8" r="1.85"/><circle cx="93.1" cy="880.9" r="1.85"/><circle cx="101.3" cy="884.9" r="1.85"/><circle cx="109.4" cy="889.0" r="1.85"/><circle cx="117.5" cy="893.0" r="1.85"/><circle cx="125.6" cy="897.1" r="1.85"/><circle cx="133.7" cy="901.2" r="1.85"/><circle cx="141.9" cy="905.2" r="1.85"/><circle cx="150.0" cy="909.3" r="1.85"/><circle cx="158.1" cy="913.3" r="1.85"/><circle cx="166.2" cy="917.4" r="1.85"/><circle cx="174.3" cy="921.5" r="1.85"/><circle cx="182.5" cy="925.5" r="1.85"/><circle cx="190.6" cy="929.6" r="1.85"/><circle cx="51.4" cy="869.5" r="1.85"/><circle cx="59.6" cy="873.5" r="1.85"/><circle cx="67.7" cy="877.6" r="1.85"/><circle cx="75.8" cy="881.6" r="1.85"/><circle cx="83.9" cy="885.7" r="1.85"/><circle cx="92.0" cy="889.8" r="1.85"/><circle cx="100.2" cy="893.8" r="1.85"/><circle cx="108.3" cy="897.9" r="1.85"/><circle cx="116.4" cy="901.9" r="1.85"/><circle cx="124.5" cy="906.0" r="1.85"/><circle cx="132.6" cy="910.1" r="1.85"/><circle cx="140.8" cy="914.1" r="1.85"/><circle cx="148.9" cy="918.2" r="1.85"/><circle cx="157.0" cy="922.2" r="1.85"/><circle cx="165.1" cy="926.3" r="1.85"/><circle cx="173.2" cy="930.4" r="1.85"/><circle cx="181.3" cy="934.4" r="1.85"/><circle cx="189.5" cy="938.5" r="1.85"/><circle cx="50.3" cy="878.4" r="1.85"/><circle cx="58.4" cy="882.4" r="1.85"/><circle cx="66.6" cy="886.5" r="1.85"/><circle cx="74.7" cy="890.5" r="1.85"/><circle cx="82.8" cy="894.6" r="1.85"/><circle cx="90.9" cy="898.7" r="1.85"/><circle cx="99.0" cy="902.7" r="1.85"/><circle cx="107.2" cy="906.8" r="1.85"/><circle cx="115.3" cy="910.8" r="1.85"/><circle cx="123.4" cy="914.9" r="1.85"/><circle cx="131.5" cy="919.0" r="1.85"/><circle cx="139.6" cy="923.0" r="1.85"/><circle cx="147.8" cy="927.1" r="1.85"/><circle cx="155.9" cy="931.1" r="1.85"/><circle cx="164.0" cy="935.2" r="1.85"/><circle cx="172.1" cy="939.3" r="1.85"/><circle cx="180.2" cy="943.3" r="1.85"/><circle cx="188.4" cy="947.4" r="1.85"/><circle cx="49.2" cy="887.3" r="1.85"/><circle cx="57.3" cy="891.3" r="1.85"/><circle cx="65.5" cy="895.4" r="1.85"/><circle cx="73.6" cy="899.4" r="1.85"/><circle cx="81.7" cy="903.5" r="1.85"/><circle cx="89.8" cy="907.6" r="1.85"/><circle cx="97.9" cy="911.6" r="1.85"/><circle cx="106.1" cy="915.7" r="1.85"/><circle cx="114.2" cy="919.7" r="1.85"/><circle cx="122.3" cy="923.8" r="1.85"/><circle cx="130.4" cy="927.9" r="1.85"/><circle cx="138.5" cy="931.9" r="1.85"/><circle cx="146.7" cy="936.0" r="1.85"/><circle cx="154.8" cy="940.0" r="1.85"/><circle cx="162.9" cy="944.1" r="1.85"/><circle cx="171.0" cy="948.2" r="1.85"/><circle cx="179.1" cy="952.2" r="1.85"/><circle cx="187.2" cy="956.3" r="1.85"/></g>
</g>
<rect x="75.70" y="666.60" width="494.80" height="220.50" fill="none" stroke="#1a1a1a" stroke-width="1.25"/>
<path d="M76.50 887.10 V893.50 M211.45 887.10 V893.50 M346.39 887.10 V893.50 M481.34 887.10 V893.50 M143.97 887.10 V890.70 M278.92 887.10 V890.70 M413.86 887.10 V890.70 M548.81 887.10 V890.70 M75.70 831.98 H69.70 M75.70 776.85 H69.70 M75.70 721.73 H69.70 M75.70 859.54 H72.30 M75.70 804.41 H72.30 M75.70 749.29 H72.30 M75.70 694.16 H72.30" stroke="#1a1a1a" stroke-width="1.25" fill="none"/>
<text x="76.70" y="923.50" text-anchor="middle" font-size="34">0</text>
<text x="211.65" y="923.50" text-anchor="middle" font-size="34">1500</text>
<text x="346.59" y="923.50" text-anchor="middle" font-size="34">3000</text>
<text x="481.54" y="923.50" text-anchor="middle" font-size="34">4500</text>
<text x="64.40" y="841.08" text-anchor="end" font-size="34">2</text>
<text x="64.40" y="785.95" text-anchor="end" font-size="34">3</text>
<text x="64.40" y="730.83" text-anchor="end" font-size="34">4</text>
<text x="182.70" y="971.30" font-size="35.0">Capacity (mA h g<tspan font-size="21" dy="-17.5">-1</tspan><tspan dy="17.5">)</tspan></text>
<text transform="translate(35.80 879.70) rotate(-90)" x="0" y="0" font-size="35.4">Voltage (V)</text>
<path d="M76.80 703.80 L76.80 752.50" fill="none" stroke="#0c08d6" stroke-width="3.60" stroke-linecap="round" stroke-linejoin="round"/>
<path d="M77.00 750.50 C78.05 748.58 78.42 746.52 80.00 745.00 C81.58 743.48 86.60 741.35 90.00 740.00 C93.40 738.65 96.68 738.53 100.00 737.00 C103.32 735.47 109.34 729.96 115.00 727.30 C120.66 724.64 126.25 723.27 132.50 721.80 C138.75 720.33 148.69 718.80 157.50 717.80 C166.31 716.80 181.87 716.07 195.00 715.30 C208.13 714.53 227.51 713.46 245.00 712.80 C262.49 712.14 282.75 711.87 295.00 711.50 C307.25 711.13 317.75 710.71 330.00 710.30 C342.25 709.89 362.51 709.42 380.00 708.70 C397.49 707.98 418.44 706.91 430.10 706.20 C441.76 705.49 455.49 704.37 463.40 703.80 C471.31 703.23 481.94 702.34 486.00 702.20 C490.06 702.06 493.54 702.20 497.60 702.20" fill="none" stroke="#0c08d6" stroke-width="3.60" stroke-linecap="round" stroke-linejoin="round"/>
<path d="M77.30 828.50 L77.30 824.00" fill="none" stroke="#0c08d6" stroke-width="3.60" stroke-linecap="round" stroke-linejoin="round"/>
<path d="M77.00 747.50 L77.00 826.50" fill="none" stroke="#e80e16" stroke-width="3.60" stroke-linecap="round" stroke-linejoin="round"/>
<path d="M77.00 749.50 C78.05 747.33 78.31 745.02 80.00 743.30 C81.69 741.58 86.57 739.80 90.00 738.30 C93.43 736.80 96.61 736.09 100.00 734.50 C103.39 732.91 109.43 728.33 115.00 726.00 C120.57 723.67 126.27 722.34 132.50 721.00 C138.73 719.66 148.71 718.24 157.50 717.30 C166.29 716.36 181.87 715.57 195.00 714.80 C208.13 714.03 227.51 712.96 245.00 712.30 C262.49 711.64 282.75 711.33 295.00 711.00 C307.25 710.67 317.75 710.37 330.00 710.00 C342.25 709.63 362.51 709.12 380.00 708.40 C397.49 707.68 418.43 706.63 430.10 705.90 C441.77 705.17 455.49 703.99 463.40 703.40 C471.31 702.81 478.09 702.30 486.00 701.70" fill="none" stroke="#e80e16" stroke-width="3.60" stroke-linecap="round" stroke-linejoin="round"/>
<path d="M77.00 762.50 C77.63 769.85 77.48 781.17 78.80 783.50 C80.12 785.83 82.51 787.01 85.00 788.00 C87.49 788.99 91.48 789.06 95.00 789.30 C98.52 789.54 163.25 789.26 200.00 789.80 C236.75 790.34 294.96 791.94 330.00 793.00 C365.04 794.06 418.41 795.78 430.10 796.60 C441.79 797.42 456.09 798.38 463.40 800.10 C470.71 801.82 481.30 806.07 483.50 807.60 C485.70 809.13 487.15 811.08 488.50 813.40 C489.85 815.72 492.79 825.36 495.10 831.80" fill="none" stroke="#e80e16" stroke-width="3.60" stroke-linecap="round" stroke-linejoin="round"/>
<path d="M100.00 788.40 L137.00 788.00" fill="none" stroke="#e80e16" stroke-width="3.60" stroke-linecap="round" stroke-linejoin="round"/>
<path d="M77.50 785.00 C80.12 786.75 82.05 788.89 85.00 790.00 C87.95 791.11 91.48 791.07 95.00 791.30 C98.52 791.53 181.49 790.93 220.00 791.30 C258.51 791.67 312.50 793.08 330.00 793.40 C347.50 793.72 362.50 793.86 380.00 794.30 C397.50 794.74 418.43 795.28 430.10 795.90 C441.77 796.52 454.38 796.73 463.40 798.40 C472.42 800.07 485.30 804.34 488.50 805.90 C491.70 807.46 494.97 808.74 496.80 811.80 C498.63 814.86 498.43 824.80 499.30 831.80" fill="none" stroke="#0c08d6" stroke-width="3.60" stroke-linecap="round" stroke-linejoin="round"/>
<text x="14.00" y="674.50" font-size="58">e</text>
</g>
<g id="panel-f">
<rect x="664.1" y="791.7" width="98.2" height="90.1" fill="url(#gb)"/>
<polygon points="698.9,800.0 740.1,806.7 756.2,842.3 728.4,876.8 687.3,870.7 671.7,836.7" fill="#28ec28"/>
<defs><clipPath id="cpf"><polygon points="698.9,800.0 740.1,806.7 756.2,842.3 728.4,876.8 687.3,870.7 671.7,836.7"/></clipPath></defs>
<g clip-path="url(#cpf)" fill="#9aa89a"><circle cx="663.2" cy="784.4" r="1.05"/><circle cx="670.8" cy="785.6" r="1.05"/><circle cx="678.4" cy="786.8" r="1.05"/><circle cx="686.0" cy="788.0" r="1.05"/><circle cx="693.6" cy="789.2" r="1.05"/><circle cx="701.2" cy="790.4" r="1.05"/><circle cx="708.8" cy="791.6" r="1.05"/><circle cx="716.4" cy="792.8" r="1.05"/><circle cx="724.0" cy="794.0" r="1.05"/><circle cx="731.6" cy="795.2" r="1.05"/><circle cx="739.2" cy="796.4" r="1.05"/><circle cx="746.8" cy="797.6" r="1.05"/><circle cx="754.4" cy="798.8" r="1.05"/><circle cx="762.0" cy="800.0" r="1.05"/><circle cx="769.6" cy="801.2" r="1.05"/><circle cx="777.2" cy="802.4" r="1.05"/><circle cx="665.8" cy="791.0" r="1.05"/><circle cx="673.4" cy="792.2" r="1.05"/><circle cx="681.0" cy="793.4" r="1.05"/><circle cx="688.6" cy="794.6" r="1.05"/><circle cx="696.2" cy="795.8" r="1.05"/><circle cx="703.8" cy="797.0" r="1.05"/><circle cx="711.4" cy="798.2" r="1.05"/><circle cx="719.0" cy="799.4" r="1.05"/><circle cx="726.6" cy="800.6" r="1.05"/><circle cx="734.2" cy="801.8" r="1.05"/><circle cx="741.8" cy="803.0" r="1.05"/><circle cx="749.4" cy="804.2" r="1.05"/><circle cx="757.0" cy="805.4" r="1.05"/><circle cx="764.6" cy="806.6" r="1.05"/><circle cx="772.2" cy="807.8" r="1.05"/><circle cx="779.8" cy="809.0" r="1.05"/><circle cx="660.8" cy="797.6" r="1.05"/><circle cx="668.4" cy="798.8" r="1.05"/><circle cx="676.0" cy="800.0" r="1.05"/><circle cx="683.6" cy="801.2" r="1.05"/><circle cx="691.2" cy="802.4" r="1.05"/><circle cx="698.8" cy="803.6" r="1.05"/><circle cx="706.4" cy="804.8" r="1.05"/><circle cx="714.0" cy="806.0" r="1.05"/><circle cx="721.6" cy="807.2" r="1.05"/><circle cx="729.2" cy="808.4" r="1.05"/><circle cx="736.8" cy="809.6" r="1.05"/><circle cx="744.4" cy="810.8" r="1.05"/><circle cx="752.0" cy="812.0" r="1.05"/><circle cx="759.6" cy="813.2" r="1.05"/><circle cx="767.2" cy="814.4" r="1.05"/><circle cx="774.8" cy="815.6" r="1.05"/><circle cx="663.4" cy="804.2" r="1.05"/><circle cx="671.0" cy="805.4" r="1.05"/><circle cx="678.6" cy="806.6" r="1.05"/><circle cx="686.2" cy="807.8" r="1.05"/><circle cx="693.8" cy="809.0" r="1.05"/><circle cx="701.4" cy="810.2" r="1.05"/><circle cx="709.0" cy="811.4" r="1.05"/><circle cx="716.6" cy="812.6" r="1.05"/><circle cx="724.2" cy="813.8" r="1.05"/><circle cx="731.8" cy="815.0" r="1.05"/><circle cx="739.4" cy="816.2" r="1.05"/><circle cx="747.0" cy="817.4" r="1.05"/><circle cx="754.6" cy="818.6" r="1.05"/><circle cx="762.2" cy="819.8" r="1.05"/><circle cx="769.8" cy="821.0" r="1.05"/><circle cx="777.4" cy="822.2" r="1.05"/><circle cx="658.4" cy="810.8" r="1.05"/><circle cx="666.0" cy="812.0" r="1.05"/><circle cx="673.6" cy="813.2" r="1.05"/><circle cx="681.2" cy="814.4" r="1.05"/><circle cx="688.8" cy="815.6" r="1.05"/><circle cx="696.4" cy="816.8" r="1.05"/><circle cx="704.0" cy="818.0" r="1.05"/><circle cx="711.6" cy="819.2" r="1.05"/><circle cx="719.2" cy="820.4" r="1.05"/><circle cx="726.8" cy="821.6" r="1.05"/><circle cx="734.4" cy="822.8" r="1.05"/><circle cx="742.0" cy="824.0" r="1.05"/><circle cx="749.6" cy="825.2" r="1.05"/><circle cx="757.2" cy="826.4" r="1.05"/><circle cx="764.8" cy="827.6" r="1.05"/><circle cx="772.4" cy="828.8" r="1.05"/><circle cx="661.0" cy="817.4" r="1.05"/><circle cx="668.6" cy="818.6" r="1.05"/><circle cx="676.2" cy="819.8" r="1.05"/><circle cx="683.8" cy="821.0" r="1.05"/><circle cx="691.4" cy="822.2" r="1.05"/><circle cx="699.0" cy="823.4" r="1.05"/><circle cx="706.6" cy="824.6" r="1.05"/><circle cx="714.2" cy="825.8" r="1.05"/><circle cx="721.8" cy="827.0" r="1.05"/><circle cx="729.4" cy="828.2" r="1.05"/><circle cx="737.0" cy="829.4" r="1.05"/><circle cx="744.6" cy="830.6" r="1.05"/><circle cx="752.2" cy="831.8" r="1.05"/><circle cx="759.8" cy="833.0" r="1.05"/><circle cx="767.4" cy="834.2" r="1.05"/><circle cx="775.0" cy="835.4" r="1.05"/><circle cx="656.0" cy="824.0" r="1.05"/><circle cx="663.6" cy="825.2" r="1.05"/><circle cx="671.2" cy="826.4" r="1.05"/><circle cx="678.8" cy="827.6" r="1.05"/><circle cx="686.4" cy="828.8" r="1.05"/><circle cx="694.0" cy="830.0" r="1.05"/><circle cx="701.6" cy="831.2" r="1.05"/><circle cx="709.2" cy="832.4" r="1.05"/><circle cx="716.8" cy="833.6" r="1.05"/><circle cx="724.4" cy="834.8" r="1.05"/><circle cx="732.0" cy="836.0" r="1.05"/><circle cx="739.6" cy="837.2" r="1.05"/><circle cx="747.2" cy="838.4" r="1.05"/><circle cx="754.8" cy="839.6" r="1.05"/><circle cx="762.4" cy="840.8" r="1.05"/><circle cx="770.0" cy="842.0" r="1.05"/><circle cx="658.6" cy="830.6" r="1.05"/><circle cx="666.2" cy="831.8" r="1.05"/><circle cx="673.8" cy="833.0" r="1.05"/><circle cx="681.4" cy="834.2" r="1.05"/><circle cx="689.0" cy="835.4" r="1.05"/><circle cx="696.6" cy="836.6" r="1.05"/><circle cx="704.2" cy="837.8" r="1.05"/><circle cx="711.8" cy="839.0" r="1.05"/><circle cx="719.4" cy="840.2" r="1.05"/><circle cx="727.0" cy="841.4" r="1.05"/><circle cx="734.6" cy="842.6" r="1.05"/><circle cx="742.2" cy="843.8" r="1.05"/><circle cx="749.8" cy="845.0" r="1.05"/><circle cx="757.4" cy="846.2" r="1.05"/><circle cx="765.0" cy="847.4" r="1.05"/><circle cx="772.6" cy="848.6" r="1.05"/><circle cx="653.6" cy="837.2" r="1.05"/><circle cx="661.2" cy="838.4" r="1.05"/><circle cx="668.8" cy="839.6" r="1.05"/><circle cx="676.4" cy="840.8" r="1.05"/><circle cx="684.0" cy="842.0" r="1.05"/><circle cx="691.6" cy="843.2" r="1.05"/><circle cx="699.2" cy="844.4" r="1.05"/><circle cx="706.8" cy="845.6" r="1.05"/><circle cx="714.4" cy="846.8" r="1.05"/><circle cx="722.0" cy="848.0" r="1.05"/><circle cx="729.6" cy="849.2" r="1.05"/><circle cx="737.2" cy="850.4" r="1.05"/><circle cx="744.8" cy="851.6" r="1.05"/><circle cx="752.4" cy="852.8" r="1.05"/><circle cx="760.0" cy="854.0" r="1.05"/><circle cx="767.6" cy="855.2" r="1.05"/><circle cx="656.2" cy="843.8" r="1.05"/><circle cx="663.8" cy="845.0" r="1.05"/><circle cx="671.4" cy="846.2" r="1.05"/><circle cx="679.0" cy="847.4" r="1.05"/><circle cx="686.6" cy="848.6" r="1.05"/><circle cx="694.2" cy="849.8" r="1.05"/><circle cx="701.8" cy="851.0" r="1.05"/><circle cx="709.4" cy="852.2" r="1.05"/><circle cx="717.0" cy="853.4" r="1.05"/><circle cx="724.6" cy="854.6" r="1.05"/><circle cx="732.2" cy="855.8" r="1.05"/><circle cx="739.8" cy="857.0" r="1.05"/><circle cx="747.4" cy="858.2" r="1.05"/><circle cx="755.0" cy="859.4" r="1.05"/><circle cx="762.6" cy="860.6" r="1.05"/><circle cx="770.2" cy="861.8" r="1.05"/><circle cx="651.2" cy="850.4" r="1.05"/><circle cx="658.8" cy="851.6" r="1.05"/><circle cx="666.4" cy="852.8" r="1.05"/><circle cx="674.0" cy="854.0" r="1.05"/><circle cx="681.6" cy="855.2" r="1.05"/><circle cx="689.2" cy="856.4" r="1.05"/><circle cx="696.8" cy="857.6" r="1.05"/><circle cx="704.4" cy="858.8" r="1.05"/><circle cx="712.0" cy="860.0" r="1.05"/><circle cx="719.6" cy="861.2" r="1.05"/><circle cx="727.2" cy="862.4" r="1.05"/><circle cx="734.8" cy="863.6" r="1.05"/><circle cx="742.4" cy="864.8" r="1.05"/><circle cx="750.0" cy="866.0" r="1.05"/><circle cx="757.6" cy="867.2" r="1.05"/><circle cx="765.2" cy="868.4" r="1.05"/><circle cx="653.8" cy="857.0" r="1.05"/><circle cx="661.4" cy="858.2" r="1.05"/><circle cx="669.0" cy="859.4" r="1.05"/><circle cx="676.6" cy="860.6" r="1.05"/><circle cx="684.2" cy="861.8" r="1.05"/><circle cx="691.8" cy="863.0" r="1.05"/><circle cx="699.4" cy="864.2" r="1.05"/><circle cx="707.0" cy="865.4" r="1.05"/><circle cx="714.6" cy="866.6" r="1.05"/><circle cx="722.2" cy="867.8" r="1.05"/><circle cx="729.8" cy="869.0" r="1.05"/><circle cx="737.4" cy="870.2" r="1.05"/><circle cx="745.0" cy="871.4" r="1.05"/><circle cx="752.6" cy="872.6" r="1.05"/><circle cx="760.2" cy="873.8" r="1.05"/><circle cx="767.8" cy="875.0" r="1.05"/><circle cx="648.8" cy="863.6" r="1.05"/><circle cx="656.4" cy="864.8" r="1.05"/><circle cx="664.0" cy="866.0" r="1.05"/><circle cx="671.6" cy="867.2" r="1.05"/><circle cx="679.2" cy="868.4" r="1.05"/><circle cx="686.8" cy="869.6" r="1.05"/><circle cx="694.4" cy="870.8" r="1.05"/><circle cx="702.0" cy="872.0" r="1.05"/><circle cx="709.6" cy="873.2" r="1.05"/><circle cx="717.2" cy="874.4" r="1.05"/><circle cx="724.8" cy="875.6" r="1.05"/><circle cx="732.4" cy="876.8" r="1.05"/><circle cx="740.0" cy="878.0" r="1.05"/><circle cx="747.6" cy="879.2" r="1.05"/><circle cx="755.2" cy="880.4" r="1.05"/><circle cx="762.8" cy="881.6" r="1.05"/><circle cx="651.4" cy="870.2" r="1.05"/><circle cx="659.0" cy="871.4" r="1.05"/><circle cx="666.6" cy="872.6" r="1.05"/><circle cx="674.2" cy="873.8" r="1.05"/><circle cx="681.8" cy="875.0" r="1.05"/><circle cx="689.4" cy="876.2" r="1.05"/><circle cx="697.0" cy="877.4" r="1.05"/><circle cx="704.6" cy="878.6" r="1.05"/><circle cx="712.2" cy="879.8" r="1.05"/><circle cx="719.8" cy="881.0" r="1.05"/><circle cx="727.4" cy="882.2" r="1.05"/><circle cx="735.0" cy="883.4" r="1.05"/><circle cx="742.6" cy="884.6" r="1.05"/><circle cx="750.2" cy="885.8" r="1.05"/><circle cx="757.8" cy="887.0" r="1.05"/><circle cx="765.4" cy="888.2" r="1.05"/><circle cx="646.4" cy="876.8" r="1.05"/><circle cx="654.0" cy="878.0" r="1.05"/><circle cx="661.6" cy="879.2" r="1.05"/><circle cx="669.2" cy="880.4" r="1.05"/><circle cx="676.8" cy="881.6" r="1.05"/><circle cx="684.4" cy="882.8" r="1.05"/><circle cx="692.0" cy="884.0" r="1.05"/><circle cx="699.6" cy="885.2" r="1.05"/><circle cx="707.2" cy="886.4" r="1.05"/><circle cx="714.8" cy="887.6" r="1.05"/><circle cx="722.4" cy="888.8" r="1.05"/><circle cx="730.0" cy="890.0" r="1.05"/><circle cx="737.6" cy="891.2" r="1.05"/><circle cx="745.2" cy="892.4" r="1.05"/><circle cx="752.8" cy="893.6" r="1.05"/><circle cx="760.4" cy="894.8" r="1.05"/><circle cx="649.0" cy="883.4" r="1.05"/><circle cx="656.6" cy="884.6" r="1.05"/><circle cx="664.2" cy="885.8" r="1.05"/><circle cx="671.8" cy="887.0" r="1.05"/><circle cx="679.4" cy="888.2" r="1.05"/><circle cx="687.0" cy="889.4" r="1.05"/><circle cx="694.6" cy="890.6" r="1.05"/><circle cx="702.2" cy="891.8" r="1.05"/><circle cx="709.8" cy="893.0" r="1.05"/><circle cx="717.4" cy="894.2" r="1.05"/><circle cx="725.0" cy="895.4" r="1.05"/><circle cx="732.6" cy="896.6" r="1.05"/><circle cx="740.2" cy="897.8" r="1.05"/><circle cx="747.8" cy="899.0" r="1.05"/><circle cx="755.4" cy="900.2" r="1.05"/><circle cx="763.0" cy="901.4" r="1.05"/></g>
<rect x="656.95" y="661.80" width="499.00" height="223.70" fill="none" stroke="#1a1a1a" stroke-width="1.25"/>
<path d="M657.75 885.50 V891.90 M793.84 885.50 V891.90 M929.93 885.50 V891.90 M1066.02 885.50 V891.90 M725.80 885.50 V889.10 M861.89 885.50 V889.10 M997.98 885.50 V889.10 M1134.07 885.50 V889.10 M656.95 829.58 H650.95 M656.95 773.65 H650.95 M656.95 717.72 H650.95 M656.95 857.54 H653.55 M656.95 801.61 H653.55 M656.95 745.69 H653.55 M656.95 689.76 H653.55" stroke="#1a1a1a" stroke-width="1.25" fill="none"/>
<text x="657.95" y="922.70" text-anchor="middle" font-size="34">0</text>
<text x="794.04" y="922.70" text-anchor="middle" font-size="34">1500</text>
<text x="930.13" y="922.70" text-anchor="middle" font-size="34">3000</text>
<text x="1066.22" y="922.70" text-anchor="middle" font-size="34">4500</text>
<text x="645.65" y="838.68" text-anchor="end" font-size="34">2</text>
<text x="645.65" y="782.75" text-anchor="end" font-size="34">3</text>
<text x="645.65" y="726.82" text-anchor="end" font-size="34">4</text>
<text x="746.70" y="961.20" font-size="35.0">Capacity (mA h g<tspan font-size="21" dy="-17.5">-1</tspan><tspan dy="17.5">)</tspan></text>
<text transform="translate(616.40 865.70) rotate(-90)" x="0" y="0" font-size="35.4">Voltage (V)</text>
<path d="M658.00 698.80 C658.00 720.22 657.74 754.73 658.00 760.00 C658.26 765.27 658.54 772.16 659.50 775.00 C660.46 777.84 661.61 780.48 664.00 782.30 C666.39 784.12 671.03 784.91 675.00 785.50 C678.97 786.09 756.25 786.50 800.00 787.20 C843.75 787.90 902.23 788.98 940.00 789.80 C977.77 790.62 1035.27 791.55 1047.90 792.50 C1060.53 793.45 1077.42 795.81 1083.80 797.00 C1090.18 798.19 1098.41 800.09 1101.80 801.50 C1105.19 802.91 1108.60 804.32 1110.80 806.90 C1113.00 809.48 1112.86 813.18 1114.40 815.90 C1115.94 818.62 1117.49 820.90 1119.80 823.00 C1122.11 825.10 1127.40 827.68 1131.50 830.20" fill="none" stroke="#e80e16" stroke-width="3.60" stroke-linecap="round" stroke-linejoin="round"/>
<path d="M658.00 757.00 C659.40 755.25 660.19 753.32 662.00 752.00 C663.81 750.68 667.18 749.98 670.00 749.00 C672.82 748.02 678.23 746.70 682.50 745.00 C686.77 743.30 690.56 740.95 695.00 739.00 C699.44 737.05 706.12 733.67 712.50 732.00 C718.88 730.33 736.81 728.21 750.00 727.00 C763.19 725.79 782.49 725.23 800.00 724.50 C817.51 723.77 852.25 722.62 875.00 722.00 C897.75 721.38 921.12 721.28 940.00 720.60 C958.88 719.92 975.04 718.91 993.90 717.90 C1012.76 716.89 1037.54 715.41 1047.90 714.80 C1058.26 714.19 1067.14 713.63 1077.50 713.00" fill="none" stroke="#e80e16" stroke-width="3.60" stroke-linecap="round" stroke-linejoin="round"/>
<path d="M657.50 755.00 L657.50 832.50" fill="none" stroke="#0c08d6" stroke-width="3.60" stroke-linecap="round" stroke-linejoin="round"/>
<path d="M657.50 784.80 C663.62 784.69 668.87 784.55 675.00 784.50 C681.13 784.45 807.49 784.18 825.00 784.50 C842.51 784.82 857.50 785.62 875.00 786.30 C892.50 786.98 917.24 788.25 940.00 789.00 C962.76 789.75 1035.30 790.82 1047.90 791.60 C1060.50 792.38 1074.30 793.93 1083.80 795.20 C1093.30 796.47 1106.33 798.69 1110.80 799.70 C1115.27 800.71 1121.57 801.96 1123.40 803.30 C1125.23 804.64 1126.07 806.63 1127.00 808.70 C1127.93 810.77 1130.51 822.09 1132.40 829.30" fill="none" stroke="#0c08d6" stroke-width="3.60" stroke-linecap="round" stroke-linejoin="round"/>
<path d="M657.50 760.00 C658.38 758.25 658.54 756.31 660.00 755.00 C661.46 753.69 666.46 752.49 670.00 751.30 C673.54 750.11 678.32 749.36 682.50 747.50 C686.68 745.64 690.46 742.32 695.00 740.00 C699.54 737.68 706.08 734.27 712.50 732.50 C718.92 730.73 736.81 728.71 750.00 727.50 C763.19 726.29 782.49 725.73 800.00 725.00 C817.51 724.27 852.25 723.05 875.00 722.50 C897.75 721.95 921.12 722.12 940.00 721.50 C958.88 720.88 975.03 719.66 993.90 718.80 C1012.77 717.94 1035.34 717.10 1047.90 716.60 C1060.46 716.10 1072.77 715.73 1083.80 715.20 C1094.83 714.67 1104.27 714.03 1115.30 713.40" fill="none" stroke="#0c08d6" stroke-width="3.60" stroke-linecap="round" stroke-linejoin="round"/>
<text x="602.00" y="676.50" font-size="58">f</text>
</g>
</svg>
</body></html>
